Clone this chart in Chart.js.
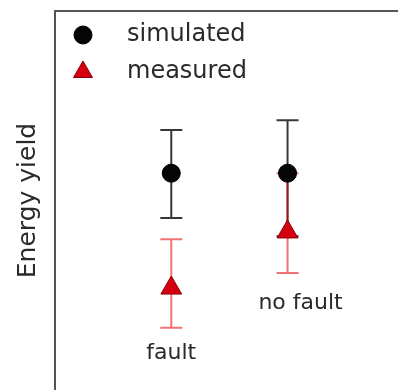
<!DOCTYPE html>
<html>
<head>
<meta charset="utf-8">
<script src="https://cdn.jsdelivr.net/npm/chart.js@4/dist/chart.umd.min.js"></script>
<style>
  body { margin: 0; background: #fff; overflow: hidden; }
</style>
</head>
<body>
<canvas id="chart" width="398" height="390"></canvas>
<script>
// categories and values (arbitrary units, no ticks shown)
const categories = ["fault", "no fault"];
const positions = [1, 2];
const simulated = [5.72, 5.72];
const simulatedLow = [4.54, 4.06];
const simulatedHigh = [6.86, 7.12];
const measured = [2.69, 4.17];
const measuredLow = [1.64, 3.09];
const measuredHigh = [3.98, 5.72];

const FONT = "DejaVu Sans";
const TEXT = "#2a2a2a";

const errorBars = {
  id: "errorBars",
  beforeDatasetsDraw(chart) {
    const ctx = chart.ctx;
    const xs = chart.scales.x;
    const ys = chart.scales.y;
    const sets = [
      [simulatedLow, simulatedHigh, "rgba(0,0,0,0.78)"],
      [measuredLow, measuredHigh, "rgba(230,0,0,0.55)"],
    ];
    ctx.save();
    ctx.lineWidth = 2;
    sets.forEach(([lo, hi, color]) => {
      ctx.strokeStyle = color;
      positions.forEach((p, i) => {
        const x = xs.getPixelForValue(p);
        const y1 = ys.getPixelForValue(lo[i]);
        const y2 = ys.getPixelForValue(hi[i]);
        ctx.beginPath();
        ctx.moveTo(x, y1);
        ctx.lineTo(x, y2);
        ctx.moveTo(x - 11, y1);
        ctx.lineTo(x + 11, y1);
        ctx.moveTo(x - 11, y2);
        ctx.lineTo(x + 11, y2);
        ctx.stroke();
      });
    });
    ctx.restore();
  },
};

const labelsAndLegend = {
  id: "labelsAndLegend",
  afterDatasetsDraw(chart) {
    const ctx = chart.ctx;
    const xs = chart.scales.x;
    const ys = chart.scales.y;
    const area = chart.chartArea;
    ctx.save();

    // category labels under the measured bars
    const shift = [[0, 25], [13, 30]];
    ctx.font = "22px '" + FONT + "'";
    ctx.fillStyle = TEXT;
    ctx.textAlign = "center";
    ctx.textBaseline = "middle";
    categories.forEach((c, i) => {
      const x = xs.getPixelForValue(positions[i]) + shift[i][0];
      const y = ys.getPixelForValue(measuredLow[i]) + shift[i][1];
      ctx.fillText(c, x, y);
    });

    // legend inside the axes, top left
    const mx = area.left + 28;
    const tx = area.left + 72;
    chart.data.datasets.forEach((ds, i) => {
      const y = area.top + 24 + i * 37;
      ctx.fillStyle = ds.backgroundColor;
      ctx.strokeStyle = ds.borderColor;
      ctx.lineWidth = ds.borderWidth;
      ctx.beginPath();
      if (ds.pointStyle === "triangle") {
        const r = 11;
        ctx.moveTo(mx, y - r);
        ctx.lineTo(mx + r * 0.866, y + r / 2);
        ctx.lineTo(mx - r * 0.866, y + r / 2);
        ctx.closePath();
      } else {
        ctx.arc(mx, y, 9, 0, Math.PI * 2);
      }
      ctx.fill();
      ctx.stroke();
      ctx.fillStyle = TEXT;
      ctx.font = "24px '" + FONT + "'";
      ctx.textAlign = "left";
      ctx.fillText(ds.label, tx, y);
    });
    ctx.restore();
  },
};

new Chart(document.getElementById("chart"), {
  type: "scatter",
  data: {
    datasets: [
      {
        label: "simulated",
        data: positions.map((p, i) => ({ x: p, y: simulated[i] })),
        pointStyle: "circle",
        pointRadius: 9,
        backgroundColor: "#050505",
        borderColor: "#000",
        borderWidth: 1,
      },
      {
        label: "measured",
        data: positions.map((p, i) => ({ x: p, y: measured[i] })),
        pointStyle: "triangle",
        pointRadius: 12,
        backgroundColor: "#d4000f",
        borderColor: "#8a0008",
        borderWidth: 1,
      },
    ],
  },
  options: {
    responsive: false,
    animation: false,
    layout: { autoPadding: false, padding: { left: 13, top: 11, right: 0, bottom: 0 } },
    plugins: { legend: { display: false }, tooltip: { enabled: false } },
    scales: {
      x: {
        type: "linear",
        position: "top",
        min: 0,
        max: 2.95,
        ticks: { display: false },
        grid: { display: false, drawTicks: false },
        border: { display: true, color: "#555", width: 2 },
      },
      y: {
        type: "linear",
        min: 0,
        max: 10,
        ticks: { display: false },
        grid: { display: false, drawTicks: false },
        border: { display: true, color: "#555", width: 2 },
        title: {
          display: true,
          text: "Energy yield",
          color: TEXT,
          font: { family: FONT, size: 25 },
          padding: { top: 0, bottom: 12 },
        },
      },
    },
  },
  plugins: [errorBars, labelsAndLegend],
});
</script>
</body>
</html>
